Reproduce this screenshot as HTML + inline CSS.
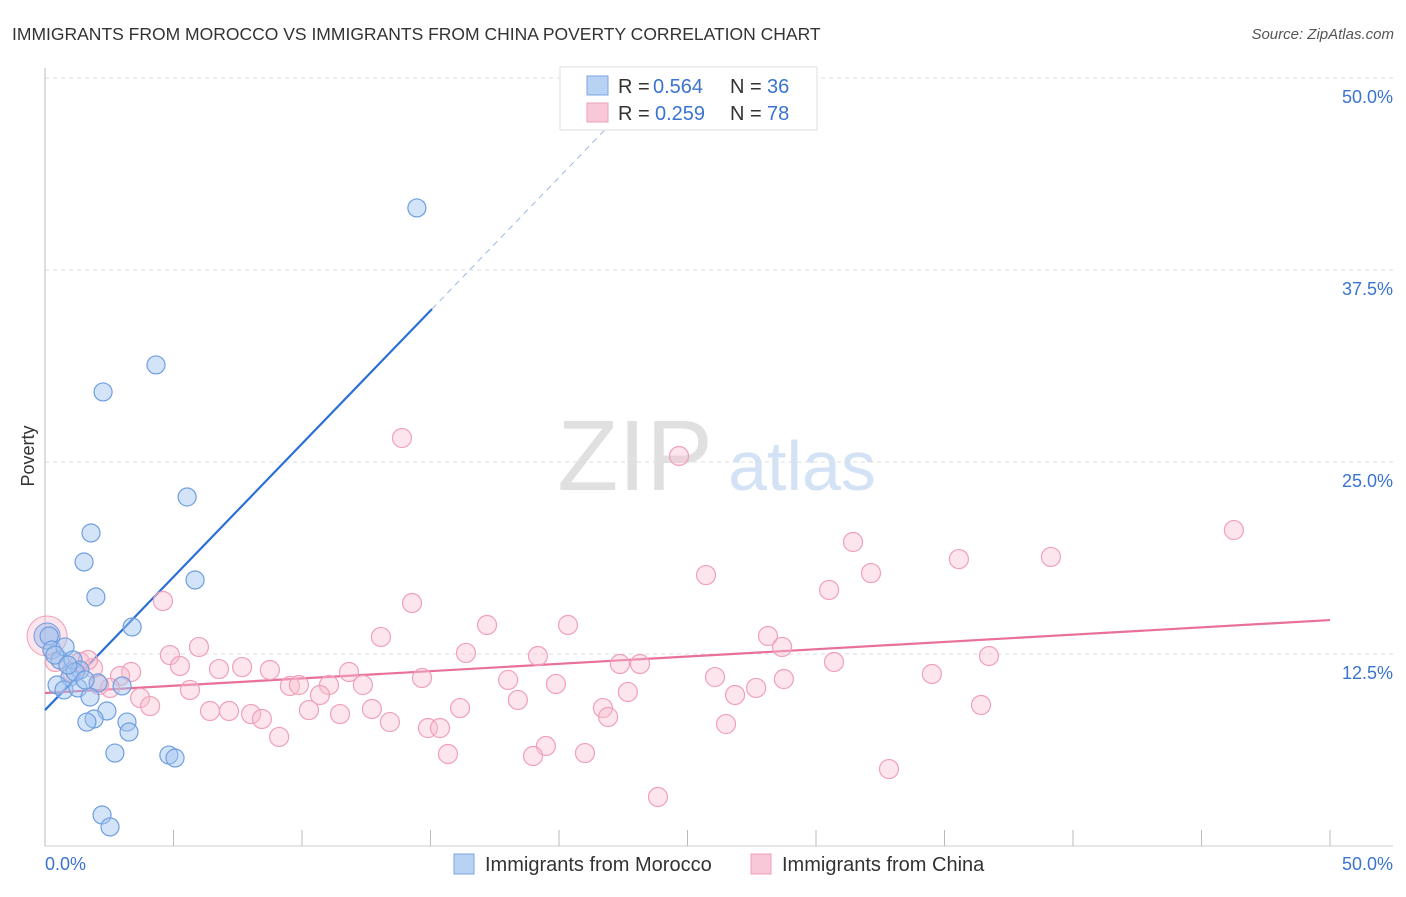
<!DOCTYPE html>
<html><head><meta charset="utf-8"><style>
body{margin:0;background:#fff;font-family:"Liberation Sans",sans-serif;}
svg text{font-family:"Liberation Sans",sans-serif;}
</style></head><body>
<svg id="chart" width="1406" height="892" viewBox="0 0 1406 892" xmlns="http://www.w3.org/2000/svg">
<text x="12" y="40" font-size="17.5" fill="#333">IMMIGRANTS FROM MOROCCO VS IMMIGRANTS FROM CHINA POVERTY CORRELATION CHART</text>
<text x="1394" y="39" font-size="15" fill="#555" font-style="italic" text-anchor="end">Source: ZipAtlas.com</text>
<g>
<text x="635" y="490" font-size="100" fill="#e0e0e0" font-family="Liberation Serif" text-anchor="middle">ZIP</text>
<text x="802" y="490" font-size="70" fill="#d3e2f5" text-anchor="middle">atlas</text>
</g>
<g id="grid"></g>
<g id="axes"></g>
<g id="lines"></g>
<g id="pts"></g>
<text transform="translate(34,456) rotate(-90)" font-size="18" fill="#333" text-anchor="middle">Poverty</text>
<g>
<rect x="560" y="67" width="257" height="63" fill="#fff" stroke="#ddd"/>
<rect x="587" y="76" width="21" height="19" fill="#b8d2f4" stroke="#7aa6e6"/>
<text x="618" y="93" font-size="20" fill="#333">R =</text>
<text x="653" y="93" font-size="20" fill="#3a74d0">0.564</text>
<text x="730" y="93" font-size="20" fill="#333">N =</text>
<text x="767" y="93" font-size="20" fill="#3a74d0">36</text>
<rect x="587" y="103" width="21" height="19" fill="#f9c8d8" stroke="#ee9fba"/>
<text x="618" y="120" font-size="20" fill="#333">R =</text>
<text x="655" y="120" font-size="20" fill="#3a74d0">0.259</text>
<text x="730" y="120" font-size="20" fill="#333">N =</text>
<text x="767" y="120" font-size="20" fill="#3a74d0">78</text>
</g>
<g>
<rect x="454" y="854" width="20" height="20" fill="#b8d2f4" stroke="#7aa6e6"/>
<text x="485" y="871" font-size="20" fill="#333">Immigrants from Morocco</text>
<rect x="751" y="854" width="20" height="20" fill="#f9c8d8" stroke="#ee9fba"/>
<text x="782" y="871" font-size="20" fill="#333">Immigrants from China</text>
</g>
</svg>
<script>
const moroccoX=[14.47,4.32,2.26,5.53,1.79,1.52,5.84,1.98,3.39,0.16,0.27,0.58,0.78,1.09,1.36,0.97,0.47,0.74,1.28,2.06,3.00,1.75,2.41,1.91,1.63,3.19,3.27,2.72,4.82,5.06,2.22,2.53,0.39,1.17,1.56,0.89];
const moroccoY=[41.54,31.32,29.56,22.72,20.38,18.49,17.32,16.21,14.26,13.67,12.76,12.11,12.96,12.11,11.46,11.00,10.48,10.16,10.29,10.61,10.42,9.70,8.79,8.27,8.07,8.07,7.42,6.05,5.92,5.73,2.02,1.24,12.43,11.33,10.81,11.78];
const chinaX=[13.89,24.67,46.26,31.44,39.14,35.56,25.72,32.14,30.51,4.59,14.28,17.20,20.35,13.07,28.13,5.99,28.68,4.86,16.38,19.18,36.73,5.25,22.37,23.15,30.70,6.77,7.67,8.75,11.83,3.35,2.92,14.67,18.02,26.07,28.75,34.51,9.53,9.88,11.05,12.37,19.88,27.67,5.64,2.53,2.10,22.68,26.85,10.70,3.70,18.40,4.09,6.42,7.16,10.27,16.15,21.71,12.72,36.42,8.02,11.48,8.44,21.91,13.42,14.90,15.37,26.50,9.11,19.49,15.68,18.99,21.01,32.84,23.85,0.39,1.36,1.87,1.05,1.67];
const chinaY=[26.56,25.39,20.57,19.79,18.82,18.68,17.64,17.77,16.67,15.95,15.82,14.39,14.39,13.61,13.67,12.96,12.96,12.43,12.57,12.37,12.37,11.72,11.85,11.85,11.98,11.52,11.65,11.46,11.33,11.33,11.07,10.94,10.81,11.00,10.87,11.20,10.42,10.48,10.48,10.48,10.55,10.29,10.16,10.29,10.48,10.03,9.83,9.83,9.64,9.51,9.11,8.79,8.79,8.85,8.98,8.98,8.92,9.18,8.59,8.59,8.27,8.40,8.07,7.68,7.68,7.94,7.10,6.51,5.99,5.86,6.05,5.01,3.19,11.98,11.98,11.59,11.33,12.11];
const yTicks=[12.5,25,37.5,50];
const yTickLabels=["12.5%","25.0%","37.5%","50.0%"];
const xTickLabels=["0.0%","50.0%"];
const moroccoTrend=[8.85,1.734];
const chinaTrend=[9.96,0.095];
const NS="http://www.w3.org/2000/svg";
const sx=v=>45+v*25.7, sy=v=>846-v*15.36;
function mk(tag,attrs,parent){const e=document.createElementNS(NS,tag);for(const k in attrs)e.setAttribute(k,attrs[k]);parent.appendChild(e);return e;}
const grid=document.getElementById('grid'),axes=document.getElementById('axes'),lines=document.getElementById('lines'),pts=document.getElementById('pts');
yTicks.forEach((t,i)=>{
 const l=mk('line',{x1:45,x2:1393,y1:sy(t),y2:sy(t),stroke:'#ddd','stroke-dasharray':'4,4'},grid);
 
 
 const tx=mk('text',{x:1393,y:sy(t)+25,'font-size':18,fill:'#3a74d0','text-anchor':'end'},axes);
 tx.textContent=yTickLabels[i];
 
 
});
const ax=mk('line',{x1:45,x2:45,y1:68,y2:846,stroke:'#bbb'},axes);


const bx=mk('line',{x1:45,x2:1393,y1:846,y2:846,stroke:'#ccc'},axes);


for(let i=0;i<=10;i++){
 const tk=mk('line',{x1:sx(i*5),x2:sx(i*5),y1:830,y2:846,stroke:'#bbb'},axes);
 
 
}
[[0,'start',45],[50,'end',1393]].forEach((d,i)=>{
 const tx=mk('text',{x:d[2],y:870,'font-size':18,fill:'#3a74d0','text-anchor':d[1]},axes);
 tx.textContent=xTickLabels[i];
 
 
});
const bp=mk('circle',{cx:sx(0.08),cy:sy(13.67),r:20,fill:'rgba(246,180,200,0.35)',stroke:'#f0a0b8'},pts);


chinaX.forEach((x,i)=>{
 const c=mk('circle',{cx:sx(x),cy:sy(chinaY[i]),r:9.5,fill:'rgba(248,190,208,0.4)',stroke:'#f0a0b8','stroke-width':1.2},pts);
 
 
});
const bb=mk('circle',{cx:sx(0.08),cy:sy(13.67),r:13,fill:'rgba(160,190,235,0.5)',stroke:'#6f9ee0'},pts);


moroccoX.forEach((x,i)=>{
 const c=mk('circle',{cx:sx(x),cy:sy(moroccoY[i]),r:9,fill:'rgba(160,196,240,0.45)',stroke:'#6f9ee0','stroke-width':1.2},pts);
 
 
});
const mEnd=15.06, mDash=21.8;
const l1=mk('line',{x1:sx(0),y1:sy(moroccoTrend[0]),x2:sx(mEnd),y2:sy(moroccoTrend[0]+moroccoTrend[1]*mEnd),stroke:'#2a6fd6','stroke-width':2.2},lines);


const l2=mk('line',{x1:sx(mEnd),y1:sy(moroccoTrend[0]+moroccoTrend[1]*mEnd),x2:sx(mDash),y2:sy(moroccoTrend[0]+moroccoTrend[1]*mDash),stroke:'#9ab8e6','stroke-width':1,'stroke-dasharray':'6,5'},lines);


const l3=mk('line',{x1:sx(0),y1:sy(chinaTrend[0]),x2:sx(50),y2:sy(chinaTrend[0]+chinaTrend[1]*50),stroke:'#e8709a','stroke-width':2.2},lines);


</script>
</body></html>
